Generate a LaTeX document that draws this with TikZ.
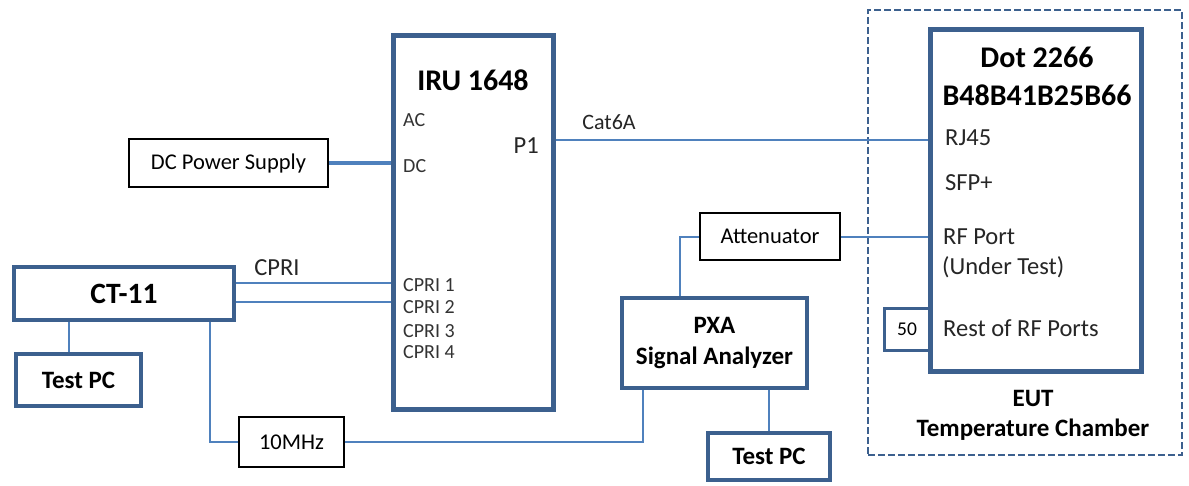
\documentclass[tikz,border=0pt]{standalone}
\usepackage{fontspec}
\setmainfont{Carlito}
\usepackage{tikz}
\usetikzlibrary{positioning, calc}

\definecolor{boxblue}{RGB}{60,96,142}
\definecolor{linkblue}{RGB}{79,129,189}

\begin{document}
\begin{tikzpicture}[x=1pt, y=-1pt,
  unit/.style={draw=boxblue, line width=4pt, fill=white, inner sep=0pt, align=center,
    font=\bfseries\fontsize{25}{31}\selectfont},
  bigunit/.style={unit, line width=5pt},
  plainbox/.style={draw=black, line width=1.5pt, fill=white, inner sep=0pt,
    font=\fontsize{22.5}{26}\selectfont},
  port/.style={anchor=west, inner sep=0pt, text=black!80, font=\fontsize{20}{24}\selectfont},
  tag/.style={inner sep=0pt, text=black!85, font=\fontsize{24.5}{29}\selectfont},
  title/.style={inner sep=0pt, font=\bfseries\fontsize{30}{36}\selectfont},
  link/.style={draw=linkblue, line width=2pt}]
\useasboundingbox (0,0) rectangle (1189,485);

\node[draw=boxblue, line width=2pt, dash pattern=on 7pt off 3pt, minimum width=314pt,
  minimum height=445pt] (chamber) at (1025,232.5) {};
\node[unit, line width=3pt, minimum width=46pt, minimum height=42pt,
  font=\fontsize{19.5}{23}\selectfont] (load) at (907,329) {50};
\node[bigunit, minimum width=211pt, minimum height=342pt] (dot) at (1035.5,200) {};
\node[bigunit, minimum width=160pt, minimum height=374pt] (iru) at (473,222) {};
\node[unit, minimum width=220pt, minimum height=53pt, font=\bfseries\fontsize{29.5}{34}\selectfont]
  (ct) at (124,293.5) {CT-11};
\node[unit, minimum width=125pt, minimum height=52pt] (tpcA) at (78.5,380) {Test PC};
\node[unit, minimum width=185pt, minimum height=90pt] (pxa) at (714.5,343) {PXA\\Signal Analyzer};
\node[unit, minimum width=122pt, minimum height=47pt] (tpcB) at (769,456.5) {Test PC};
\node[plainbox, minimum width=199pt, minimum height=48pt] (psu) at (228.5,163) {DC Power Supply};
\node[plainbox, minimum width=105pt, minimum height=50pt] (ref) at (291.5,442) {10MHz};
\node[plainbox, minimum width=140pt, minimum height=47pt] (att) at (770,236.5) {Attenuator};

\node[title] (iruname) at (473,80) {IRU 1648};
\node[port] (ac) at (403,120) {AC};
\node[port] (dc) at (403,166) {DC};
\node[tag, anchor=east] (p1) at (539,146) {P1};
\node[port] (cpriA) at (403,285) {CPRI 1};
\node[port] (cpriB) at (403,307) {CPRI 2};
\node[port] (cpriC) at (403,331) {CPRI 3};
\node[port] (cpriD) at (403,352) {CPRI 4};

\node[title] (dotname) at (1037,57) {Dot 2266};
\node[title] (dotbands) at (1037,95) {B48B41B25B66};
\node[tag, anchor=west] (rj) at (945,138) {RJ45};
\node[tag, anchor=west] (sfp) at (945,183) {SFP+};
\node[tag, anchor=west] (rfport) at (943,237) {RF Port};
\node[tag, anchor=west] (undertest) at (942,267) {(Under Test)};
\node[tag, anchor=west] (restrf) at (943,328) {Rest of RF Ports};
\node[inner sep=0pt, font=\bfseries\fontsize{25}{30}\selectfont] (eut) at (1033,398) {EUT};
\node[inner sep=0pt, font=\bfseries\fontsize{25}{30}\selectfont] (chambername) at (1033,430) {Temperature Chamber};

\node[tag] (cprilabel) at (277,268) {CPRI};
\node[tag, font=\fontsize{22}{26}\selectfont] (catlabel) at (609,122) {Cat6A};

\draw[link, line width=3.5pt] (psu.east) -- (psu.east -| iru.west);
\draw[link] (ct.east |- 0,283) -- (iru.west |- 0,283);
\draw[link] (ct.east |- 0,302) -- (iru.west |- 0,302);
\draw[link] (iru.east |- 0,140) -- (dot.west |- 0,140);
\draw[link] (ct.south -| 69,0) -- (tpcA.north -| 69,0);
\draw[link] (ct.south -| 210,0) |- (ref.west);
\draw[link] (ref.east) -| (pxa.south -| 643,0);
\draw[link] (pxa.north -| 680,0) |- (att.west);
\draw[link] (att.east) -- (att.east -| dot.west);
\draw[link] (tpcB.north) -- (tpcB.north |- pxa.south);
\end{tikzpicture}
\end{document}
